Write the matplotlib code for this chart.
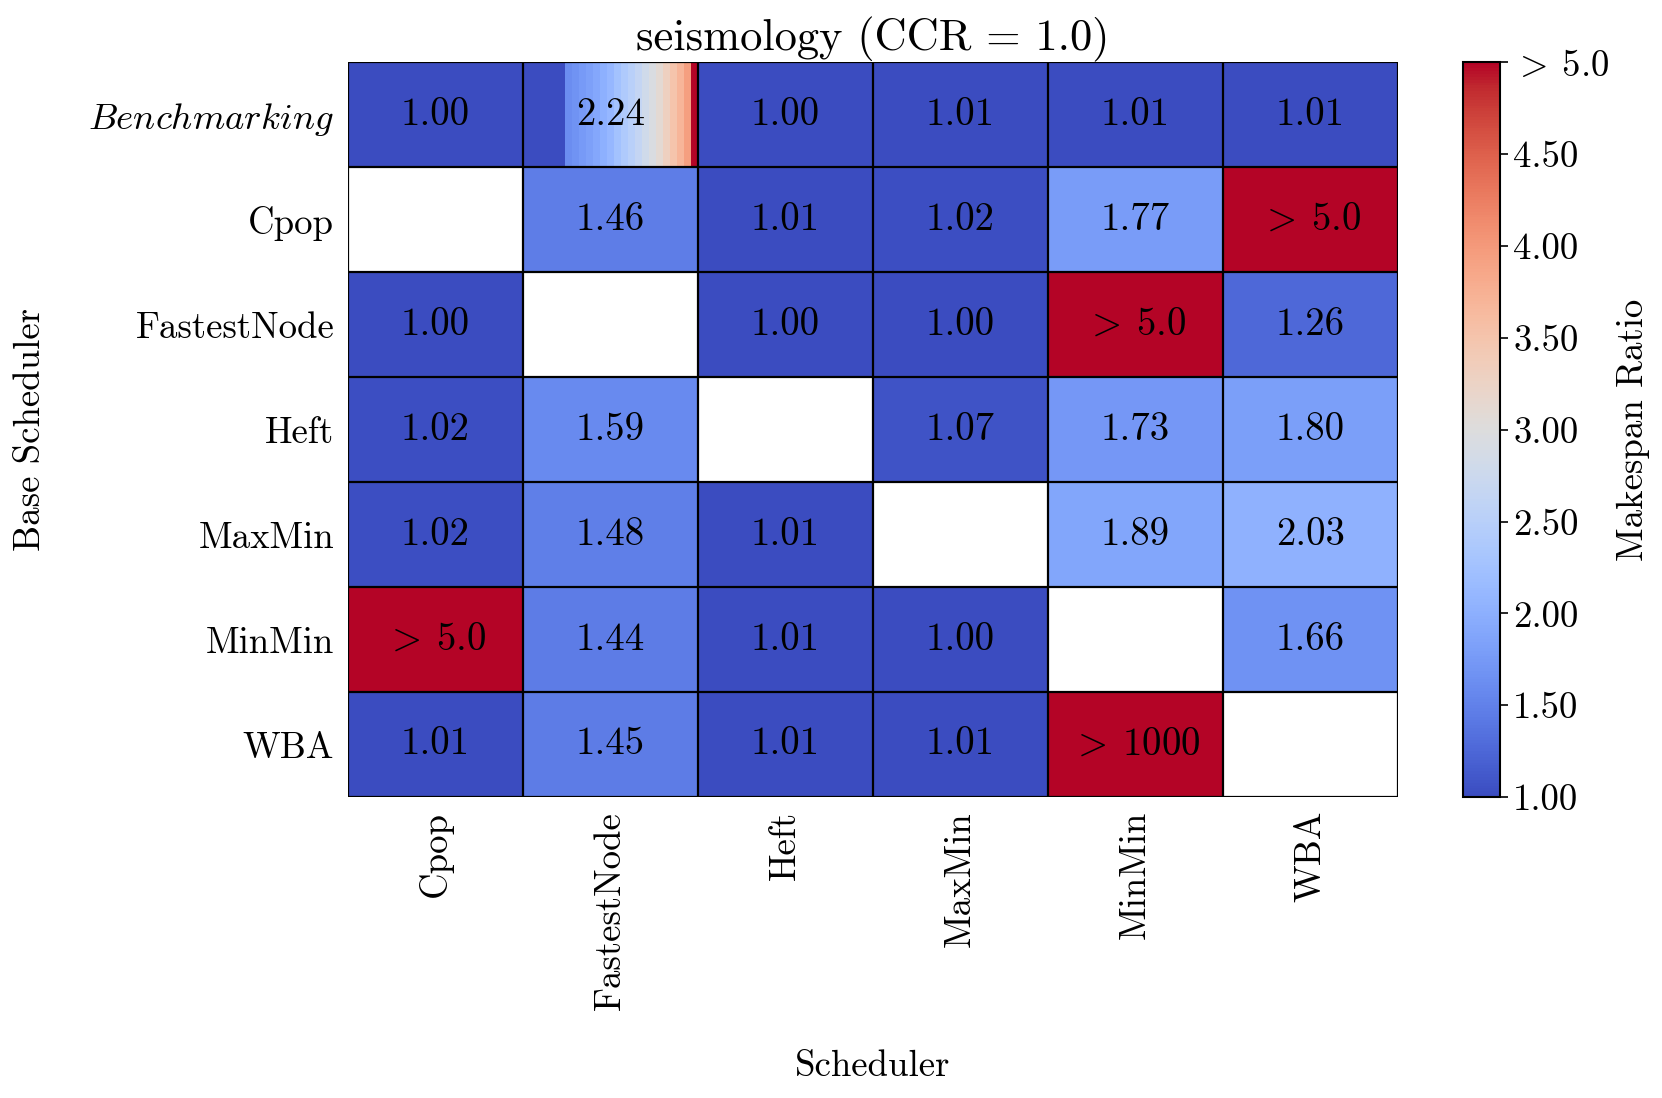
import numpy as np
import matplotlib
matplotlib.use("Agg")
import matplotlib.pyplot as plt
from matplotlib.colors import Normalize

plt.rcParams['font.family'] = ['cmr10', 'DejaVu Serif']
plt.rcParams['mathtext.fontset'] = 'cm'
plt.rcParams['axes.formatter.use_mathtext'] = True
plt.rcParams['axes.unicode_minus'] = False

# данные
base_schedulers = ['Benchmarking', 'Cpop', 'FastestNode', 'Heft', 'MaxMin', 'MinMin', 'WBA']
schedulers = ['Cpop', 'FastestNode', 'Heft', 'MaxMin', 'MinMin', 'WBA']

nan = np.nan
row_benchmarking = [1.00, 2.24, 1.00, 1.01, 1.01, 1.01]
row_cpop = [nan, 1.46, 1.01, 1.02, 1.77, 6.0]
row_fastestnode = [1.00, nan, 1.00, 1.00, 6.0, 1.26]
row_heft = [1.02, 1.59, nan, 1.07, 1.73, 1.80]
row_maxmin = [1.02, 1.48, 1.01, nan, 1.89, 2.03]
row_minmin = [6.0, 1.44, 1.01, 1.00, nan, 1.66]
row_wba = [1.01, 1.45, 1.01, 1.01, 1500.0, nan]

# отсортированные значения внутри ячейки Benchmarking / FastestNode
bench_fastest_samples = [1.0, 1.0, 1.0, 1.0, 1.0, 1.0, 1.62, 1.68, 1.75, 1.82,
                         1.9, 2.0, 2.1, 2.25, 2.4, 2.5, 2.65, 2.8, 2.95, 3.1,
                         3.3, 3.5, 3.7, 3.95, 5.0]

cbar_ticks = [1.0, 1.5, 2.0, 2.5, 3.0, 3.5, 4.0, 4.5, 5.0]

GT = r'$>\:$'


def cell_label(v):
    if v > 1000:
        return GT + '1000'
    if v > 5:
        return GT + '5.0'
    return f'{v:.2f}'


def main():
    data = np.array([row_benchmarking, row_cpop, row_fastestnode, row_heft,
                     row_maxmin, row_minmin, row_wba])
    n_rows, n_cols = data.shape

    cmap = plt.get_cmap('coolwarm')
    norm = Normalize(vmin=1.0, vmax=5.0)

    fig = plt.figure(figsize=(16.62, 10.98), dpi=100)
    ax = fig.add_axes([0.2094, 0.2741, 0.6318, 0.669])
    cax = fig.add_axes([0.8803, 0.2741, 0.0223, 0.669])

    shown = np.clip(data, 1.0, 5.0)
    shown[0, 1] = nan  # эта ячейка рисуется градиентом
    ax.pcolormesh(np.arange(n_cols + 1), np.arange(n_rows + 1),
                  np.ma.masked_invalid(shown), cmap=cmap, norm=norm)

    # градиент
    k = len(bench_fastest_samples)
    xs = np.linspace(1, 2, k + 1)
    ax.pcolormesh(xs, [0, 1], np.array([bench_fastest_samples]),
                  cmap=cmap, norm=norm)

    ax.set_xlim(0, n_cols)
    ax.set_ylim(n_rows, 0)

    # линии сетки
    ax.hlines(np.arange(n_rows + 1), 0, n_cols, color='black', lw=1.6, zorder=3)
    ax.vlines(np.arange(n_cols + 1), 0, n_rows, color='black', lw=1.6, zorder=3)
    for s in ax.spines.values():
        s.set_visible(False)

    for i in range(n_rows):
        for j in range(n_cols):
            if not np.isnan(data[i, j]):
                ax.text(j + 0.5, i + 0.5, cell_label(data[i, j]),
                        ha='center', va='center', fontsize=28, color='black')

    ylabels = [r'$\mathit{Benchmarking}$'] + base_schedulers[1:]
    ax.set_xticks(np.arange(n_cols) + 0.5)
    ax.set_xticklabels(schedulers, rotation=90, fontsize=26.5)
    ax.set_yticks(np.arange(n_rows) + 0.5)
    ax.set_yticklabels(ylabels, fontsize=26.5)
    ax.tick_params(length=0, pad=10)

    ax.set_xlabel('Scheduler', fontsize=26.5, labelpad=29)
    ax.set_ylabel('Base Scheduler', fontsize=26.5, labelpad=30)
    ax.set_title('seismology (CCR = 1.0)', fontsize=32, pad=6)

    sm = matplotlib.cm.ScalarMappable(cmap=cmap, norm=norm)
    cb = fig.colorbar(sm, cax=cax)
    cb.set_ticks(cbar_ticks)
    cb.set_ticklabels([f'{t:.2f}' for t in cbar_ticks[:-1]] + [GT + '5.0'])
    cb.ax.tick_params(labelsize=26.5, length=6, width=1.2)
    cb.outline.set_linewidth(1.5)
    cb.set_label('Makespan Ratio', fontsize=26.5, labelpad=5)

    plt.savefig('out.png', dpi=100)


if __name__ == "__main__":
    main()
